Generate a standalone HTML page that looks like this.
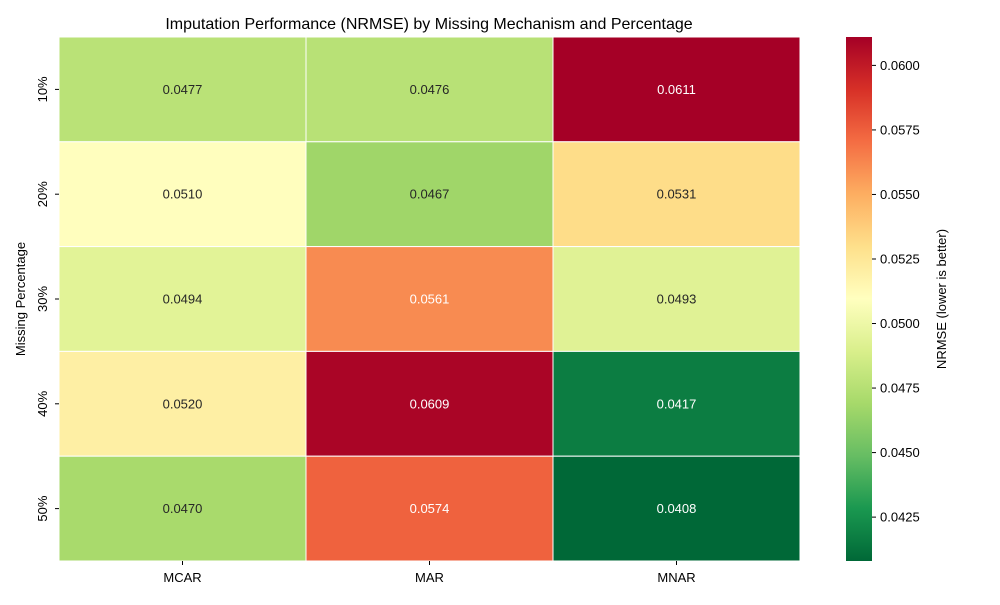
<!DOCTYPE html>
<html><head><meta charset="utf-8"><style>
body{margin:0;background:#fff;font-family:"Liberation Sans","DejaVu Sans",sans-serif;}
</style></head><body>
<svg id="chart" width="1000" height="600" xmlns="http://www.w3.org/2000/svg" font-family="Liberation Sans, DejaVu Sans, sans-serif">
<defs><linearGradient id="cbgrad" x1="0" y1="1" x2="0" y2="0"></linearGradient></defs>
<text x="429" y="29" text-anchor="middle" font-size="16" fill="#000">Imputation Performance (NRMSE) by Missing Mechanism and Percentage</text>
<text transform="translate(25,299) rotate(-90)" text-anchor="middle" font-size="13">Missing Percentage</text>
<text transform="translate(946,299) rotate(-90)" text-anchor="middle" font-size="13">NRMSE (lower is better)</text>
<g id="cells"></g>
<g id="cbar"></g>
</svg>
<script>
const columns=["MCAR","MAR","MNAR"];
const rows=["10%","20%","30%","40%","50%"];
const mcar=[0.0477,0.0510,0.0494,0.0520,0.0470];
const mar=[0.0476,0.0467,0.0561,0.0609,0.0574];
const mnar=[0.0611,0.0531,0.0493,0.0417,0.0408];
const cbTicks=[0.0425,0.0450,0.0475,0.0500,0.0525,0.0550,0.0575,0.0600];
const series=[mcar,mar,mnar];
const all=[].concat(mcar,mar,mnar);
const vmin=Math.min(...all), vmax=Math.max(...all);
const stops=["#006837","#1a9850","#66bd63","#a6d96a","#d9ef8b","#ffffbf","#fee08b","#fdae61","#f46d43","#d73027","#a50026"];
const NS="http://www.w3.org/2000/svg";
const X0=59,X1=800,Y0=37,Y1=561;
const cw=(X1-X0)/columns.length, rh=(Y1-Y0)/rows.length;
function hex(h){return [1,3,5].map(i=>parseInt(h.substr(i,2),16));}
function cmap(t){t=Math.max(0,Math.min(1,t));const p=t*(stops.length-1);const i=Math.min(stops.length-2,Math.floor(p));const f=p-i;const a=hex(stops[i]),b=hex(stops[i+1]);return a.map((v,k)=>Math.round(v+(b[k]-v)*f));}
function lum(c){const l=c.map(v=>{v/=255;return v<=0.03928?v/12.92:Math.pow((v+0.055)/1.055,2.4)});return 0.2126*l[0]+0.7152*l[1]+0.0722*l[2];}
function el(t,a,p){const e=document.createElementNS(NS,t);for(const k in a)e.setAttribute(k,a[k]);p.appendChild(e);return e;}
const svg=document.getElementById('chart');
const cells=document.getElementById('cells');
const xs=i=>X0+i*cw, ys=j=>Y0+j*rh;
series.forEach((s,i)=>{s.forEach((v,j)=>{
 const c=cmap((v-vmin)/(vmax-vmin));
 const r=el('rect',{x:xs(i),y:ys(j),width:cw,height:rh,fill:`rgb(${c})`,stroke:'#fff','stroke-width':1},cells);
 
 
 const t=el('text',{x:xs(i)+cw/2,y:ys(j)+rh/2+4.5,'text-anchor':'middle','font-size':13,fill:lum(c)>0.408?'#262626':'#fff'},cells);
 t.textContent=v.toFixed(4);
 
 
});});
columns.forEach((c,i)=>{
 el('line',{x1:xs(i)+cw/2,x2:xs(i)+cw/2,y1:Y1,y2:Y1+4,stroke:'#000'},svg);
 const t=el('text',{x:xs(i)+cw/2,y:Y1+21,'text-anchor':'middle','font-size':13},svg);t.textContent=c;
 
 
});
rows.forEach((r,j)=>{
 const y=ys(j)+rh/2;
 el('line',{x1:X0-4,x2:X0,y1:y,y2:y,stroke:'#000'},svg);
 const t=el('text',{transform:`translate(${X0-12},${y}) rotate(-90)`,'text-anchor':'middle','font-size':13},svg);t.textContent=r;
 
 
});
// colorbar
const g=document.getElementById('cbgrad');
stops.forEach((s,k)=>el('stop',{offset:k/(stops.length-1),'stop-color':s},g));
const cb=document.getElementById('cbar');
const CX=846,CW=26;
const cr=el('rect',{x:CX,y:Y0,width:CW,height:Y1-Y0,fill:'url(#cbgrad)'},cb);


const cy=v=>Y1-(v-vmin)/(vmax-vmin)*(Y1-Y0);
cbTicks.forEach(v=>{
 const y=cy(v);
 el('line',{x1:CX+CW,x2:CX+CW+4,y1:y,y2:y,stroke:'#000'},cb);
 const t=el('text',{x:CX+CW+8,y:y+4.5,'font-size':13},cb);t.textContent=v.toFixed(4);
 
 
});
</script>
</body></html>
